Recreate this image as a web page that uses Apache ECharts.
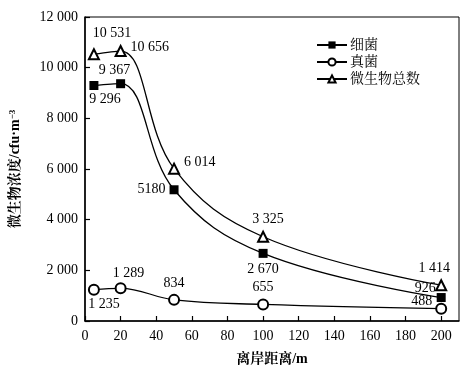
<!DOCTYPE html>
<html>
<head>
<meta charset="utf-8">
<script src="https://cdn.jsdelivr.net/npm/echarts@6/dist/echarts.min.js"></script>
<style>html,body{margin:0;padding:0;background:#fff}#c{width:473px;height:372px}</style>
</head>
<body>
<div id="c"></div>
<script>
// ---- data ----
const distances = [5, 20, 50, 100, 200];
const bacteria = [9296, 9367, 5180, 2670, 926];
const fungi = [1235, 1289, 834, 655, 488];
const total = [10531, 10656, 6014, 3325, 1414];
const bacteriaLabels = ['9 296', '9 367', '5180', '2 670', '926'];
const fungiLabels = ['1 235', '1 289', '834', '655', '488'];
const totalLabels = ['10 531', '10 656', '6 014', '3 325', '1 414'];
const seriesNames = ['细菌', '真菌', '微生物总数'];
const xTicks = { min: 0, max: 210, interval: 20 };
const yTicks = { min: 0, max: 12000, interval: 2000 };

// ---- label placement (style) ----
const bacteriaPos = [
  { position: 'bottom', offset: [11, -2] },
  { position: 'top', offset: [-6, 2] },
  { position: 'left', offset: [0, 0] },
  { position: 'bottom', offset: [0, 0] },
  { position: 'left', offset: [3, -9] }
];
const fungiPos = [
  { position: 'bottom', offset: [10, -2] },
  { position: 'top', offset: [8, 2] },
  { position: 'top', offset: [0, 0] },
  { position: 'top', offset: [0, 0] },
  { position: 'left', offset: [1, -7] }
];
const totalPos = [
  { position: 'top', offset: [18, -4] },
  { position: 'right', offset: [0, -4] },
  { position: 'right', offset: [0, -6] },
  { position: 'top', offset: [5, 0] },
  { position: 'top', offset: [-7, 0] }
];

const FONT = "'Liberation Serif', 'Times New Roman', 'Noto Serif CJK SC', 'Noto Sans CJK SC', serif";

function fmt(v) {
  return String(v).replace(/\B(?=(\d{3})+(?!\d))/g, ' ');
}

function build(values, labels, pos) {
  return distances.map((d, i) => ({
    value: [d, values[i]],
    label: { show: true, formatter: labels[i], position: pos[i].position, offset: pos[i].offset }
  }));
}

const common = {
  type: 'line',
  smooth: 0.4,
  lineStyle: { color: '#000', width: 1.3 },
  label: { color: '#000', fontSize: 14, fontFamily: FONT, distance: 4 },
  emphasis: { disabled: true },
  z: 3
};

const chart = echarts.init(document.getElementById('c'));
chart.setOption({
  animation: false,
  backgroundColor: '#fff',
  textStyle: { fontFamily: FONT, color: '#000' },
  grid: { left: 82, right: 14, top: 17, bottom: 51, show: true, borderColor: '#000', borderWidth: 1, backgroundColor: 'transparent' },
  legend: {
    orient: 'vertical',
    left: 311,
    top: 33,
    itemWidth: 30,
    itemHeight: 9,
    itemGap: 3,
    textStyle: { fontSize: 14, fontFamily: FONT, color: '#000', padding: [0, 0, 0, -2] },
    data: seriesNames
  },
  xAxis: {
    type: 'value',
    min: xTicks.min, max: xTicks.max, interval: xTicks.interval,
    name: '离岸距离/m',
    nameLocation: 'middle',
    nameGap: 31,
    nameTextStyle: { fontSize: 14, fontWeight: 'bold', fontFamily: FONT, color: '#000' },
    axisLine: { lineStyle: { color: '#000', width: 1.5 } },
    axisTick: { inside: true, length: 5, lineStyle: { color: '#000', width: 1.2 } },
    axisLabel: { fontSize: 14, color: '#000', fontFamily: FONT, margin: 8, showMaxLabel: false },
    splitLine: { show: false }
  },
  yAxis: {
    type: 'value',
    min: yTicks.min, max: yTicks.max, interval: yTicks.interval,
    name: '微生物浓度/cfu·m{sup|−3}',
    nameLocation: 'middle',
    nameGap: 63,
    nameTextStyle: {
      fontSize: 14, fontWeight: 'bold', fontFamily: FONT, color: '#000',
      rich: { sup: { fontSize: 9, verticalAlign: 'top', fontWeight: 'bold', fontFamily: FONT, color: '#000' } }
    },
    axisLine: { show: true, lineStyle: { color: '#000', width: 1.5 } },
    axisTick: { show: true, inside: true, length: 5, lineStyle: { color: '#000', width: 1.2 } },
    axisLabel: { fontSize: 14, color: '#000', fontFamily: FONT, margin: 7, formatter: fmt },
    splitLine: { show: false }
  },
  series: [
    Object.assign({}, common, {
      name: seriesNames[0],
      symbol: 'rect', symbolSize: 9,
      itemStyle: { color: '#000' },
      data: build(bacteria, bacteriaLabels, bacteriaPos)
    }),
    Object.assign({}, common, {
      name: seriesNames[1],
      symbol: 'emptyCircle', symbolSize: 10,
      itemStyle: { color: '#000', borderColor: '#000', borderWidth: 1.2 },
      data: build(fungi, fungiLabels, fungiPos)
    }),
    Object.assign({}, common, {
      name: seriesNames[2],
      symbol: 'emptyTriangle', symbolSize: 10,
      itemStyle: { color: '#000', borderColor: '#000', borderWidth: 1.2 },
      data: build(total, totalLabels, totalPos)
    })
  ]
});
</script>
</body>
</html>
